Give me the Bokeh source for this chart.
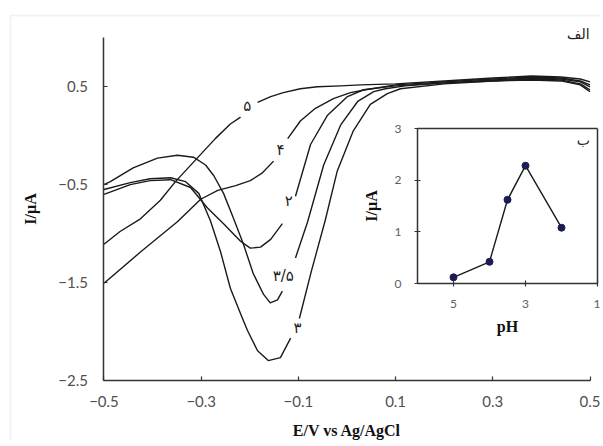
from bokeh.plotting import figure
from bokeh.models import Range1d, LinearAxis, FixedTicker, Label, BoxAnnotation, ColumnDataSource
from bokeh.embed import file_html
from bokeh.resources import INLINE
from bokeh.core.properties import value

nan = float("nan")

# ---- main voltammograms (E / V vs Ag/AgCl, I / uA); nan = gap for the label
e_ph5 = [-0.5, -0.467, -0.425, -0.384, -0.353, -0.312, -0.271, -0.240, -0.219, nan,
         -0.184, -0.157, -0.131, -0.096, -0.061, -0.013, 0.028, 0.1, 0.2, 0.3, 0.38, 0.44, 0.48, 0.5]
i_ph5 = [-1.11, -0.98, -0.85, -0.66, -0.47, -0.25, -0.03, 0.12, 0.19, nan,
         0.34, 0.40, 0.44, 0.48, 0.50, 0.51, 0.52, 0.53, 0.56, 0.59, 0.61, 0.60, 0.58, 0.55]

e_ph4 = [-0.5, -0.425, -0.349, -0.301, -0.266, -0.229, -0.199, -0.174, -0.151, nan,
         -0.122, -0.096, -0.065, -0.028, 0.007, 0.038, 0.1, 0.2, 0.3, 0.38, 0.44, 0.48, 0.5]
i_ph4 = [-1.51, -1.19, -0.88, -0.65, -0.56, -0.51, -0.46, -0.38, -0.26, nan,
         -0.03, 0.15, 0.28, 0.38, 0.44, 0.47, 0.52, 0.55, 0.58, 0.60, 0.59, 0.56, 0.52]

e_ph2 = [-0.5, -0.446, -0.405, -0.363, -0.322, -0.287, -0.254, -0.219, -0.199, -0.178, -0.157, -0.133, nan,
         -0.106, -0.075, -0.040, 0.001, 0.034, 0.1, 0.2, 0.3, 0.38, 0.44, 0.48, 0.5]
i_ph2 = [-0.60, -0.50, -0.46, -0.45, -0.53, -0.74, -0.90, -1.08, -1.15, -1.14, -1.06, -0.90, nan,
         -0.62, -0.09, 0.21, 0.40, 0.47, 0.51, 0.54, 0.57, 0.59, 0.58, 0.55, 0.50]

e_ph35 = [-0.5, -0.487, -0.440, -0.390, -0.349, -0.316, -0.291, -0.274, -0.254, -0.234, -0.213, -0.193,
          -0.172, -0.158, -0.143, -0.133, nan,
          -0.106, -0.081, -0.048, -0.013, 0.022, 0.055, 0.079, 0.12, 0.2, 0.3, 0.38, 0.44, 0.48, 0.5]
i_ph35 = [-0.50, -0.47, -0.33, -0.23, -0.20, -0.22, -0.30, -0.41, -0.59, -0.84, -1.11, -1.41,
          -1.62, -1.71, -1.68, -1.59, nan,
          -1.25, -0.88, -0.30, 0.11, 0.35, 0.45, 0.48, 0.51, 0.54, 0.56, 0.58, 0.57, 0.53, 0.47]

e_ph3 = [-0.5, -0.446, -0.405, -0.363, -0.332, -0.305, -0.281, -0.260, -0.240, -0.219, -0.205, -0.184,
         -0.162, -0.137, -0.116, nan,
         -0.098, -0.073, -0.045, -0.020, 0.013, 0.048, 0.083, 0.11, 0.2, 0.3, 0.38, 0.44, 0.48, 0.5]
i_ph3 = [-0.55, -0.48, -0.44, -0.43, -0.47, -0.59, -0.87, -1.19, -1.56, -1.82, -1.99, -2.20,
         -2.30, -2.27, -2.07, nan,
         -1.87, -1.38, -0.87, -0.36, 0.05, 0.32, 0.43, 0.48, 0.53, 0.56, 0.57, 0.56, 0.52, 0.45]

curve_lab_x = [-0.205, -0.137, -0.120, -0.131, -0.102]
curve_lab_y = [0.30, -0.15, -0.67, -1.43, -1.97]
curve_lab_text = ["۵", "۴", "۲", "۳/۵", "۳"]

x_ticks = [-0.5, -0.3, -0.1, 0.1, 0.3, 0.5]
y_ticks = [0.5, -0.5, -1.5, -2.5]

# ---- inset: peak current vs pH
ph_vals = [5, 4, 3.5, 3, 2]
ip_vals = [0.12, 0.42, 1.62, 2.28, 1.08]
ph_ticks = [5, 3, 1]
ip_ticks = [0, 1, 2, 3]

AX = "#333333"
TICK_FONT = "Lato"
TITLE_FONT = "Liberation Serif"

# the frame covers the whole canvas; every axis is pinned with fixed_location
p = figure(width=600, height=440, output_backend="svg", toolbar_location=None,
           x_range=Range1d(-0.71296, 0.52160), y_range=Range1d(-3.11735, 1.38265),
           x_axis_location=None, y_axis_location=None,
           min_border_left=0, min_border_right=0, min_border_top=0, min_border_bottom=0)
p.outline_line_color = None
p.grid.visible = False
p.background_fill_color = "white"
p.border_fill_color = "white"

p.extra_x_ranges = {"ph": Range1d(17.5833, 0.9167)}
p.extra_y_ranges = {"ival": Range1d(-3.0386, 5.4774)}


def style_axis(ax, ticks, tick_font_size, tick_color, standoff, tin, tout):
    ax.axis_line_color = AX
    ax.axis_line_width = 1.5
    ax.minor_tick_line_color = None
    if ticks is None:
        ax.ticker = FixedTicker(ticks=[])
        ax.major_tick_line_color = None
        ax.major_label_text_font_size = "0px"
    else:
        ax.ticker = FixedTicker(ticks=ticks)
        ax.major_tick_line_color = AX
        ax.major_tick_line_width = 1.2
        ax.major_tick_in = tin
        ax.major_tick_out = tout
        ax.major_label_text_font = TICK_FONT
        ax.major_label_text_font_size = tick_font_size
        ax.major_label_text_color = tick_color
        ax.major_label_standoff = standoff


def style_label(ax, label, size, standoff):
    ax.axis_label = label
    ax.axis_label_text_font = TITLE_FONT
    ax.axis_label_text_font_style = "bold"
    ax.axis_label_text_font_size = size
    ax.axis_label_text_color = "#111111"
    ax.axis_label_standoff = standoff


# main axes
xax = LinearAxis(fixed_location=-2.5, bounds=(-0.5, 0.5))
style_axis(xax, x_ticks, "15px", "#505050", 16, 4, 0)
style_label(xax, "E/V vs Ag/AgCl", "16px", 11)
p.add_layout(xax, "below")

yax = LinearAxis(fixed_location=-0.5, bounds=(-2.5, 1.0))
style_axis(yax, y_ticks, "15px", "#505050", 16, 4, 0)
style_label(yax, "I/µA", "16px", 16)
p.add_layout(yax, "left")

curves = [(e_ph5, i_ph5), (e_ph4, i_ph4), (e_ph2, i_ph2), (e_ph35, i_ph35), (e_ph3, i_ph3)]
for xs, ys in curves:
    p.line(xs, ys, line_color="#1a1a1a", line_width=1.4, line_join="round")

p.text(x=curve_lab_x, y=curve_lab_y, text=curve_lab_text, text_font=value("DejaVu Sans"),
       text_font_size="15px", text_color="#222222", text_align="center", text_baseline="middle")

p.add_layout(Label(x=0.476, y=1.036, text="الف", text_font="DejaVu Sans", text_font_size="14px",
                   text_color="#222222", text_align="center", text_baseline="middle"))

# inset axes
ix = LinearAxis(x_range_name="ph", y_range_name="ival", fixed_location=0, bounds=(1, 6))
style_axis(ix, ph_ticks, "12px", "#606060", 13, 3, 3)
style_label(ix, "pH", "16px", 7)
p.add_layout(ix, "below")

iy = LinearAxis(x_range_name="ph", y_range_name="ival", fixed_location=6, bounds=(0, 3))
style_axis(iy, ip_ticks, "12px", "#606060", 13, 3, 3)
style_label(iy, "I/µA", "16px", 12)
p.add_layout(iy, "left")

itop = LinearAxis(x_range_name="ph", y_range_name="ival", fixed_location=3, bounds=(1, 6))
style_axis(itop, None, None, None, None, 0, 0)
p.add_layout(itop, "above")

iright = LinearAxis(x_range_name="ph", y_range_name="ival", fixed_location=1, bounds=(0, 3))
style_axis(iright, None, None, None, None, 0, 0)
p.add_layout(iright, "right")

src = ColumnDataSource(dict(ph=ph_vals, ip=ip_vals))
p.line("ph", "ip", source=src, x_range_name="ph", y_range_name="ival", line_color="#1a1a1a", line_width=1.4)
p.scatter("ph", "ip", source=src, x_range_name="ph", y_range_name="ival", size=7,
          fill_color="#1c1c55", line_color="#1c1c55")

p.add_layout(Label(x=1.39, y=2.77, x_range_name="ph", y_range_name="ival", text="ب",
                   text_font="DejaVu Sans", text_font_size="14px", text_color="#222222",
                   text_align="center", text_baseline="middle"))

# light grey frame around the picture
p.add_layout(BoxAnnotation(left=-0.6924, top=1.2296, right=2.0, bottom=-6.0,
                           fill_color=None, line_color="#d4d4d4", line_width=2))

open("out.html", "w").write(file_html(p, INLINE))
